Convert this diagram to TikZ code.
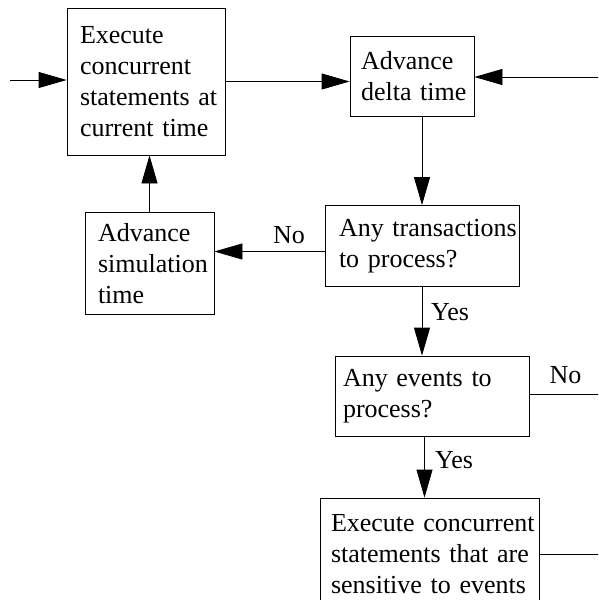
\documentclass[tikz,border=0pt]{standalone}
\usepackage{fontspec}
\setmainfont{Liberation Serif}
\usepackage{tikz}
\usetikzlibrary{shapes,arrows.meta,positioning}
\hyphenpenalty=10000
\exhyphenpenalty=10000

\begin{document}
\begin{tikzpicture}[x=1pt,y=1pt,node distance=170pt,font=\fontsize{26}{31}\selectfont]
    \tikzstyle{box}=[draw,line width=0.8pt,align=left,inner ysep=0pt]
    \tikzstyle{lbl}=[inner sep=0pt]
    \tikzstyle{arr}=[line width=0.8pt,-{Triangle[length=28pt,width=16pt]}]
    \tikzstyle{wire}=[line width=0.8pt]

    \useasboundingbox (0,0) rectangle (598,-600);

    \node(exec) [box,text width=132pt,inner xsep=13pt,minimum height=147pt] at (146,-81.5) {Execute\\concurrent\\statements~at\\current~time};
    \node(delta) [box,right of=exec,xshift=96pt,yshift=5.5pt,text width=102pt,inner xsep=11pt,minimum height=80pt] {Advance\\delta~time};
    \node(trans) [box,below of=delta,xshift=10pt,text width=166pt,inner xsep=14pt,minimum height=81pt] {Any~transactions\\to~process?};
    \node(advsim) [box,left of=trans,xshift=-102.5pt,yshift=-17.5pt,text width=103pt,inner xsep=13pt,minimum height=102pt] {Advance\\simulation\\time};
    \node(events) [box,below of=trans,xshift=10pt,yshift=20pt,text width=178pt,inner xsep=8pt,minimum height=80pt] {Any~events~to\\process?};
    \node(sens) [box,below of=events,xshift=-2.5pt,yshift=12pt,text width=197pt,inner xsep=11pt,minimum height=112pt] {Execute~concurrent\\statements~that~are\\sensitive~to~events};

    \node(no1) [lbl] at (289,-235.5) {No};
    \node(yes1) [lbl] at (450,-312.5) {Yes};
    \node(no2) [lbl] at (565.5,-375.5) {No};
    \node(yes2) [lbl] at (454,-460) {Yes};

    \coordinate(inL) at (10,-80);
    \coordinate(inR) at (598,-77);
    \coordinate(outR) at (598,-395);

    \draw [arr] (inL) -- (inL -| exec.west);
    \draw [arr] (exec.east) -- (exec.east -| delta.west);
    \draw [arr] (inR) -- (inR -| delta.east);
    \draw [arr] (trans.north |- delta.south) -- (trans.north);
    \draw [arr] ([yshift=-5.5pt]trans.west) -- ([yshift=-5.5pt]trans.west -| advsim.east);
    \draw [arr] (advsim.north) -- (advsim.north |- exec.south);
    \draw [arr] (trans.south) -- (trans.south |- events.north);
    \draw [wire] ([yshift=2pt]events.east) -- ([yshift=2pt]events.east -| outR);
    \draw [arr] ([xshift=-5pt]sens.north |- events.south) -- ([xshift=-5pt]sens.north);
    \draw [wire] (sens.east) -- (sens.east -| outR);

\end{tikzpicture}
\end{document}
